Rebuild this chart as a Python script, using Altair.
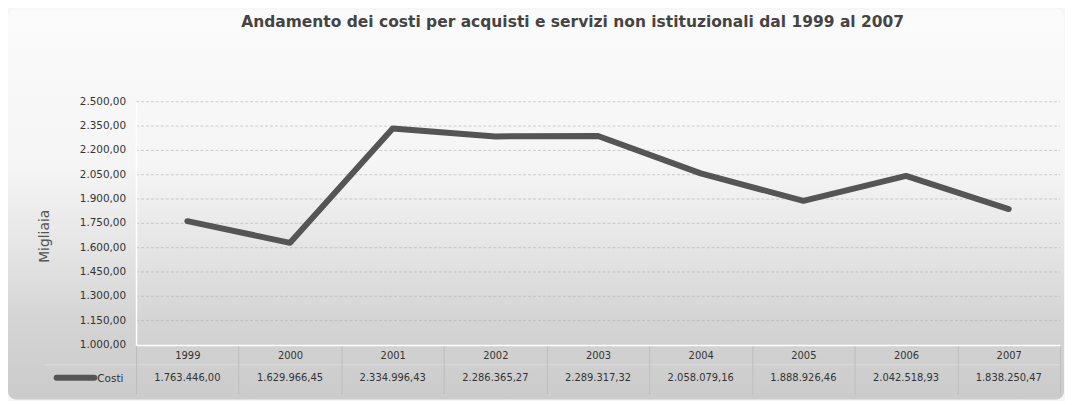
import altair as alt
import pandas as pd

years = ["1999", "2000", "2001", "2002", "2003", "2004", "2005", "2006", "2007"]
costi = [1763446.00, 1629966.45, 2334996.43, 2286365.27, 2289317.32,
         2058079.16, 1888926.46, 2042518.93, 1838250.47]
y_ticks = [1000, 1150, 1300, 1450, 1600, 1750, 1900, 2050, 2200, 2350, 2500]
TITLE = "Andamento dei costi per acquisti e servizi non istituzionali dal 1999 al 2007"


def it_fmt(v):
    s = f"{v:,.2f}"
    return s.replace(",", "_").replace(".", ",").replace("_", ".")


df = pd.DataFrame({
    "anno": years,
    "migliaia": [v / 1000 for v in costi],
    "etichetta": [it_fmt(v) for v in costi],
})
tick_df = pd.DataFrame({"v": y_ticks, "lab": [it_fmt(v) for v in y_ticks]})

W, H = 931, 245
FONT = "DejaVu Sans"
yscale = alt.Scale(domain=[1000, 2500], nice=False, zero=False)
yaxis = alt.Axis(
    values=y_ticks, labels=False, ticks=False,
    domainColor="#ffffff", domainWidth=1.5, grid=False, zindex=1,
    titleFont=FONT, titleFontSize=14, titleFontWeight="normal",
    titleColor="#555555", titleX=-92, titleY=135, titleAngle=-90,
    titleAlign="center", titleBaseline="middle",
)

backdrop = alt.Chart(pd.DataFrame({"k": [0]})).mark_rect(
    color=alt.LinearGradient(
        gradient="linear", x1=0, x2=0, y1=0, y2=1,
        stops=[
            alt.GradientStop(color="#fbfbfb", offset=0),
            alt.GradientStop(color="#f5f5f5", offset=0.4),
            alt.GradientStop(color="#e6e6e6", offset=0.6),
            alt.GradientStop(color="#d4d4d4", offset=0.8),
            alt.GradientStop(color="#cbcbcb", offset=1),
        ],
    ),
    cornerRadius=8,
).encode(
    x=alt.value(-129), x2=alt.value(W + 4),
    y=alt.value(-93), y2=alt.value(H + 55),
)

ticks_base = alt.Chart(tick_df)

grid = ticks_base.transform_filter("datum.v > 1000").mark_rule(
    color="#b0b0b0", strokeDash=[3, 2], opacity=0.6, strokeWidth=1
).encode(
    y=alt.Y("v:Q", title="Migliaia", scale=yscale, axis=yaxis),
    x=alt.value(0), x2=alt.value(W),
)

ylabels = ticks_base.mark_text(
    font=FONT, fontSize=10.5, color="#333333", align="right", baseline="middle"
).encode(
    y=alt.Y("v:Q", title="Migliaia", scale=yscale, axis=yaxis),
    x=alt.value(-10),
    text="lab:N",
)

base = alt.Chart(df)

xenc = alt.X(
    "anno:N", sort=years, title=None,
    scale=alt.Scale(paddingInner=0, paddingOuter=0),
    axis=alt.Axis(
        labelAngle=0, labelFont=FONT, labelFontSize=10, labelColor="#333333",
        labelPadding=-44, tickBand="extent", tickSize=50, tickColor="#bdbdbd",
        tickWidth=1, domainColor="#ffffff", domainWidth=1.5, zindex=1,
        labelBaseline="top",
    ),
)

line = base.mark_line(color="#555555", strokeWidth=6, strokeJoin="round",
                      strokeCap="round").encode(
    x=xenc,
    y=alt.Y("migliaia:Q", title="Migliaia", scale=yscale, axis=yaxis),
)

values_row = base.mark_text(font=FONT, fontSize=10, color="#333333",
                            baseline="middle", dy=33).encode(
    x=alt.X("anno:N", sort=years),
    y=alt.datum(1000),
    text="etichetta:N",
)

row_sep = alt.Chart(pd.DataFrame({"k": [0]})).mark_rule(
    color="#e2e2e2", strokeWidth=1, opacity=0.7
).encode(x=alt.value(-92), x2=alt.value(W), y=alt.value(H + 20))

legend_swatch = alt.Chart(pd.DataFrame({"k": [0]})).mark_rule(
    color="#555555", strokeWidth=6, strokeCap="round"
).encode(x=alt.value(-80), x2=alt.value(-42), y=alt.value(H + 33))

legend_text = alt.Chart(pd.DataFrame({"k": [0]})).mark_text(
    text="Costi", font=FONT, fontSize=10.5, color="#333333",
    align="left", baseline="middle"
).encode(x=alt.value(-39), y=alt.value(H + 34))

title_text = alt.Chart(pd.DataFrame({"k": [0]})).mark_text(
    text=TITLE, font=FONT, fontSize=15.6, fontWeight="bold", color="#444444",
    align="left", baseline="middle"
).encode(x=alt.value(106), y=alt.value(-80))

chart = alt.layer(
    backdrop, grid, row_sep, ylabels, line, values_row, legend_swatch,
    legend_text, title_text,
).properties(
    width=W, height=H,
    padding={"left": 129, "top": 93, "right": 5, "bottom": 55},
    autosize=alt.AutoSizeParams(type="none"),
    background="#f6f6f6",
).configure_view(stroke=None)

chart.save("out.html", embed_options={"renderer": "svg", "actions": False})
